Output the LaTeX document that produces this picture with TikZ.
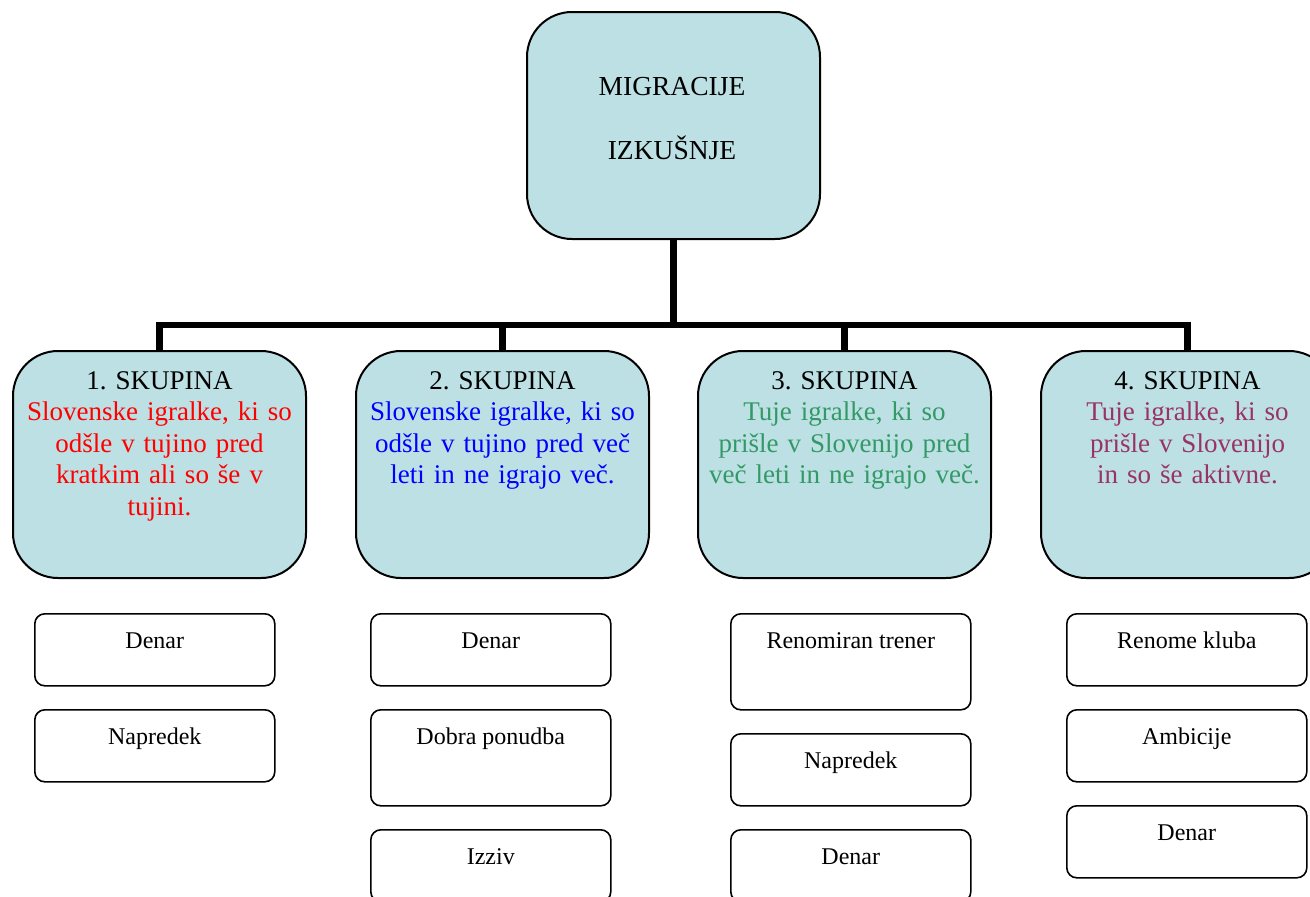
\documentclass[tikz,border=0pt]{standalone}
\usepackage{fontspec}
\setmainfont{Liberation Serif}
\frenchspacing
\definecolor{boxfill}{RGB}{188,224,227}
\definecolor{grpred}{RGB}{255,0,0}
\definecolor{grpblue}{RGB}{0,0,255}
\definecolor{grpgreen}{RGB}{51,153,102}
\definecolor{grppurple}{RGB}{153,51,102}

\begin{document}
\begin{tikzpicture}[x=1pt,y=-1pt,
  bigbox/.style={draw=black, line width=2pt, fill=boxfill, rounded corners=45pt,
    minimum width=293pt, minimum height=227pt, inner sep=0pt, anchor=north west},
  smallbox/.style={draw=black, line width=1.6pt, rounded corners=10pt,
    minimum width=240pt, inner sep=0pt, anchor=north west},
  bigtext/.style={font=\fontsize{27.5}{31.5}\selectfont, inner sep=0pt, anchor=base},
  grptext/.style={font=\fontsize{27}{31.5}\selectfont, inner sep=0pt, anchor=base,
    text width=290pt, align=center},
  smalltext/.style={font=\fontsize{24}{28}\selectfont, inner sep=0pt, anchor=base, yshift=-35pt},
  link/.style={line width=6.5pt}
]
\useasboundingbox (0,0) rectangle (1310,897);
\clip (0,0) rectangle (1310,897);

% root
\node[bigbox] (root) at (526,11) {};
\node[bigtext] (roota) at (672,95) {MIGRACIJE};
\node[bigtext] (rootb) at (672,159) {IZKUŠNJE};

% groups
\node[bigbox] (g1) at (12,350) {};
\node[bigbox] (g2) at (355,350) {};
\node[bigbox] (g3) at (697,350) {};
\node[bigbox] (g4) at (1040,350) {};

\node[grptext] (g1t) at (g1.north |- 0,389) {1. SKUPINA\\\color{grpred}Slovenske igralke, ki so\\odšle v tujino pred\\kratkim ali so še v\\tujini.};
\node[grptext] (g2t) at (g2.north |- 0,389) {2. SKUPINA\\\color{grpblue}Slovenske igralke, ki so\\odšle v tujino pred več\\leti in ne igrajo več.};
\node[grptext] (g3t) at (g3.north |- 0,389) {3. SKUPINA\\\color{grpgreen}Tuje igralke, ki so\\prišle v Slovenijo pred\\več leti in ne igrajo več.};
\node[grptext] (g4t) at (g4.north |- 0,389) {4. SKUPINA\\\color{grppurple}Tuje igralke, ki so\\prišle v Slovenijo\\in so še aktivne.};

% tree connectors
\coordinate (bus) at (672,325);
\draw[link] (root.south) -- (root.south |- bus);
\draw[link] (g1.north) |- (g4.north |- bus) -- (g4.north);
\draw[link] (g2.north) -- (g2.north |- bus);
\draw[link] (g3.north) -- (g3.north |- bus);

% reasons, column 1
\node[smallbox, minimum height=72pt] (a1) at (34,613) {};
\node[smalltext] (a1t) at (a1.north) {Denar};
\node[smallbox, minimum height=72pt] (a2) at (34,709) {};
\node[smalltext] (a2t) at (a2.north) {Napredek};

% reasons, column 2
\node[smallbox, minimum height=72pt] (b1) at (370,613) {};
\node[smalltext] (b1t) at (b1.north) {Denar};
\node[smallbox, minimum height=96pt] (b2) at (370,709) {};
\node[smalltext] (b2t) at (b2.north) {Dobra ponudba};
\node[smallbox, minimum height=72pt] (b3) at (370,829) {};
\node[smalltext] (b3t) at (b3.north) {Izziv};

% reasons, column 3
\node[smallbox, minimum height=96pt] (c1) at (730,613) {};
\node[smalltext] (c1t) at (c1.north) {Renomiran trener};
\node[smallbox, minimum height=72pt] (c2) at (730,733) {};
\node[smalltext] (c2t) at (c2.north) {Napredek};
\node[smallbox, minimum height=72pt] (c3) at (730,829) {};
\node[smalltext] (c3t) at (c3.north) {Denar};

% reasons, column 4
\node[smallbox, minimum height=72pt] (d1) at (1066,613) {};
\node[smalltext] (d1t) at (d1.north) {Renome kluba};
\node[smallbox, minimum height=72pt] (d2) at (1066,709) {};
\node[smalltext] (d2t) at (d2.north) {Ambicije};
\node[smallbox, minimum height=72pt] (d3) at (1066,805) {};
\node[smalltext] (d3t) at (d3.north) {Denar};
\end{tikzpicture}
\end{document}
